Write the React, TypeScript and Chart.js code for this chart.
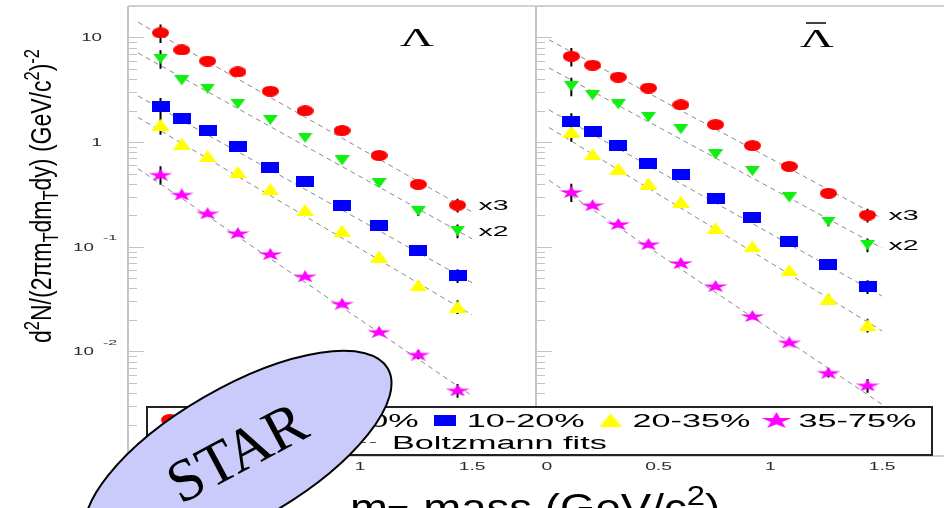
import { useEffect, useRef } from 'react';
import { Chart, registerables } from 'chart.js';

Chart.register(...registerables);

// ---------------- data ----------------
// m_T - mass bin centres (GeV/c^2), shared by both panels
const mtBins = [0.11, 0.205, 0.32, 0.455, 0.6, 0.755, 0.92, 1.085, 1.26, 1.435];
// relative uncertainty drawn as vertical error bars (0 = hidden under the marker)
const binRelErr = [0.2, 0, 0, 0, 0, 0, 0, 0, 0.1, 0.15];

const centralityLabels = ['0-5%', '5-10%', '10-20%', '20-35%', '35-75%'];
const scaleFactorLabels = ['x3', 'x2', '', '', ''];
const fitLegendLabel = 'Boltzmann fits';

// Lambda spectra
const lambda_0_5 = [11.1, 7.6, 5.96, 4.69, 3.07, 1.99, 1.29, 0.745, 0.395, 0.25];
const lambda_5_10 = [6.28, 3.89, 3.24, 2.32, 1.63, 1.1, 0.668, 0.404, 0.219, 0.142];
const lambda_10_20 = [2.2, 1.68, 1.29, 0.912, 0.577, 0.416, 0.246, 0.158, 0.0922, 0.0531];
const lambda_20_35 = [1.47, 0.962, 0.733, 0.517, 0.355, 0.224, 0.142, 0.0803, 0.0427, 0.0268];
const lambda_35_75 = [0.489, 0.316, 0.209, 0.135, 0.0853, 0.0523, 0.0286, 0.0154, 0.00933, 0.00425];

// anti-Lambda spectra
const antiLambda_0_5 = [6.61, 5.43, 4.18, 3.29, 2.27, 1.47, 0.927, 0.586, 0.325, 0.201];
const antiLambda_5_10 = [3.43, 2.8, 2.3, 1.74, 1.33, 0.762, 0.529, 0.296, 0.174, 0.104];
const antiLambda_10_20 = [1.57, 1.26, 0.927, 0.63, 0.489, 0.29, 0.191, 0.113, 0.068, 0.0415];
const antiLambda_20_35 = [1.26, 0.762, 0.557, 0.402, 0.269, 0.15, 0.1007, 0.0596, 0.0319, 0.0178];
const antiLambda_35_75 = [0.334, 0.25, 0.165, 0.106, 0.07, 0.0421, 0.0218, 0.0122, 0.00625, 0.00474];

// Boltzmann fit curves (end points)
const fitMtRange = [0.01, 1.5];
const lambdaFitStart = [13.97, 7.1, 2.76, 1.72, 0.557];
const lambdaFitEnd = [0.215, 0.119, 0.0453, 0.0223, 0.00376];
const antiLambdaFitStart = [9.5, 5.12, 2.03, 1.38, 0.431];
const antiLambdaFitEnd = [0.187, 0.097, 0.0338, 0.0157, 0.00311];

// axes
const xTickValues = [0, 0.5, 1, 1.5];
const yTickLabels = [
  { value: 10, base: '10', exp: '' },
  { value: 1, base: '1', exp: '' },
  { value: 0.1, base: '10', exp: '-1' },
  { value: 0.01, base: '10', exp: '-2' },
];

// ---------------- styling ----------------
const SANS = '"Liberation Sans", Arial, Helvetica, sans-serif';
const SERIF = '"Liberation Serif", "Times New Roman", serif';
const seriesColors = ['#ff0000', '#11ee11', '#0000ff', '#ffff00', '#ff00ff'];
const markerKinds = ['circle', 'triDown', 'square', 'triUp', 'star'];
const markerSizes = [
  [17, 11],
  [15, 10],
  [18, 11],
  [18, 12],
  [24, 12],
];
const legendMarkerSizes = [
  [18, 12],
  [18, 12],
  [22, 11],
  [22, 13],
  [30, 16],
];
const FRAME = '#c4c4c4';
const FIT_COLOR = '#8a8a8a';

type Seg = { t: string; k?: 'sub' | 'sup' };

function makeMarker(kind: string, color: string, w: number, h: number) {
  const c = document.createElement('canvas');
  c.width = w;
  c.height = h;
  const g = c.getContext('2d')!;
  g.fillStyle = color;
  g.beginPath();
  if (kind === 'circle') {
    g.ellipse(w / 2, h / 2, w / 2, h / 2, 0, 0, Math.PI * 2);
  } else if (kind === 'square') {
    g.rect(0, 0, w, h);
  } else if (kind === 'triUp') {
    g.moveTo(0, h);
    g.lineTo(w / 2, 0);
    g.lineTo(w, h);
    g.closePath();
  } else if (kind === 'triDown') {
    g.moveTo(0, 0);
    g.lineTo(w, 0);
    g.lineTo(w / 2, h);
    g.closePath();
  } else {
    for (let k = 0; k < 10; k++) {
      const r = k % 2 ? 0.382 : 1;
      const a = -Math.PI / 2 + (k * Math.PI) / 5;
      const px = ((r * Math.cos(a) + 0.951) / 1.902) * w;
      const py = ((r * Math.sin(a) + 1) / 1.809) * h;
      if (k === 0) g.moveTo(px, py);
      else g.lineTo(px, py);
    }
    g.closePath();
  }
  g.fill();
  return c;
}

function drawRich(
  ctx: CanvasRenderingContext2D,
  segs: Seg[],
  o: {
    x: number;
    y: number;
    size: number;
    family?: string;
    color?: string;
    align?: 'left' | 'center' | 'right';
    sx?: number;
    rot?: number;
    width?: number;
    subDy?: number;
  }
) {
  const fam = o.family ?? SANS;
  const fontOf = (s: Seg) => `${s.k ? o.size * 0.72 : o.size}px ${fam}`;
  ctx.save();
  ctx.fillStyle = o.color ?? '#000';
  ctx.textBaseline = 'alphabetic';
  ctx.textAlign = 'left';
  ctx.translate(o.x, o.y);
  if (o.sx) ctx.scale(o.sx, 1);
  if (o.rot) ctx.rotate(o.rot);
  let total = 0;
  const widths = segs.map((s) => {
    ctx.font = fontOf(s);
    const w = ctx.measureText(s.t).width;
    total += w;
    return w;
  });
  if (o.width) ctx.scale(o.width / total, 1);
  let cx = o.align === 'center' ? -total / 2 : o.align === 'right' ? -total : 0;
  segs.forEach((s, i) => {
    ctx.font = fontOf(s);
    const dy = s.k === 'sub' ? o.size * (o.subDy ?? 0.25) : s.k === 'sup' ? -o.size * 0.42 : 0;
    ctx.fillText(s.t, cx, dy);
    cx += widths[i];
  });
  ctx.restore();
  return total;
}

export default function App() {
  const ref = useRef<HTMLCanvasElement | null>(null);

  useEffect(() => {
    const canvas = ref.current;
    if (!canvas) return;

    const markers = markerKinds.map((k, i) =>
      makeMarker(k, seriesColors[i], markerSizes[i][0], markerSizes[i][1])
    );
    const legendMarkers = markerKinds.map((k, i) =>
      makeMarker(k, seriesColors[i], legendMarkerSizes[i][0], legendMarkerSizes[i][1])
    );

    const lambdaSeries = [lambda_0_5, lambda_5_10, lambda_10_20, lambda_20_35, lambda_35_75];
    const antiSeries = [antiLambda_0_5, antiLambda_5_10, antiLambda_10_20, antiLambda_20_35, antiLambda_35_75];

    const pointSets: any[] = [];
    const fitSets: any[] = [];
    const panels = [
      { xAxisID: 'xL', series: lambdaSeries, fs: lambdaFitStart, fe: lambdaFitEnd },
      { xAxisID: 'xR', series: antiSeries, fs: antiLambdaFitStart, fe: antiLambdaFitEnd },
    ];
    panels.forEach((p) => {
      p.series.forEach((vals, i) => {
        pointSets.push({
          label: centralityLabels[i],
          xAxisID: p.xAxisID,
          yAxisID: 'y',
          data: vals.map((v, j) => ({ x: mtBins[j], y: v })),
          pointStyle: markers[i],
          pointRadius: 5,
          pointHoverRadius: 5,
          showLine: false,
          isSpectrum: true,
          scaleLabel: scaleFactorLabels[i],
        });
        fitSets.push({
          label: fitLegendLabel,
          xAxisID: p.xAxisID,
          yAxisID: 'y',
          data: [
            { x: fitMtRange[0], y: p.fs[i] },
            { x: fitMtRange[1], y: p.fe[i] },
          ],
          showLine: true,
          borderColor: FIT_COLOR,
          borderWidth: 1,
          borderDash: [5, 4],
          pointRadius: 0,
          fill: false,
        });
      });
    });

    const deco = {
      id: 'starDeco',
      beforeDraw(chart: any) {
        const c = chart.ctx;
        c.save();
        c.fillStyle = '#fff';
        c.fillRect(0, 0, chart.width, chart.height);
        c.restore();
      },
      beforeDatasetsDraw(chart: any) {
        const c: CanvasRenderingContext2D = chart.ctx;
        const a = chart.chartArea;
        const y = chart.scales.y;
        const xL = chart.scales.xL;
        const xR = chart.scales.xR;
        c.save();
        // frame lines
        c.strokeStyle = FRAME;
        c.lineWidth = 2;
        c.beginPath();
        c.moveTo(xL.left, a.top);
        c.lineTo(xL.left, a.bottom + 1);
        c.moveTo(xR.left, a.top);
        c.lineTo(xR.left, a.bottom + 1);
        c.stroke();
        c.lineWidth = 1.5;
        c.beginPath();
        c.moveTo(xL.left, a.top);
        c.lineTo(a.right, a.top);
        c.moveTo(xL.left, a.bottom);
        c.lineTo(a.right, a.bottom);
        c.stroke();
        // log ticks pointing inwards
        c.lineWidth = 1;
        c.beginPath();
        for (let d = -3; d <= 1; d++) {
          for (let m = 1; m <= 9; m++) {
            const v = m * Math.pow(10, d);
            if (v < y.min || v > y.max) continue;
            const py = Math.round(y.getPixelForValue(v)) + 0.5;
            const len = m === 1 ? 16 : 9;
            for (const sx of [xL.left, xR.left]) {
              c.moveTo(sx, py);
              c.lineTo(sx + len, py);
            }
          }
        }
        c.stroke();
        // error bars
        c.strokeStyle = '#000';
        c.lineWidth = 2;
        c.beginPath();
        chart.data.datasets.forEach((ds: any, di: number) => {
          if (!ds.isSpectrum) return;
          const meta = chart.getDatasetMeta(di);
          ds.data.forEach((pt: any, j: number) => {
            const e = binRelErr[j];
            if (!e) return;
            const px = meta.data[j].x;
            c.moveTo(px, y.getPixelForValue(pt.y * (1 + e)));
            c.lineTo(px, y.getPixelForValue(pt.y * (1 - e)));
          });
        });
        c.stroke();
        c.restore();
      },
      afterDatasetsDraw(chart: any) {
        const c: CanvasRenderingContext2D = chart.ctx;
        const a = chart.chartArea;
        const y = chart.scales.y;
        const xL = chart.scales.xL;
        const xR = chart.scales.xR;
        const TICK_COL = '#2a2a2a';

        // y tick labels
        yTickLabels.forEach((lab) => {
          const py = y.getPixelForValue(lab.value);
          if (lab.exp) {
            drawRich(c, [{ t: lab.base }], { x: a.left - 55, y: py + 4, size: 11, sx: 1.7, color: TICK_COL });
            drawRich(c, [{ t: lab.exp }], { x: a.left - 25, y: py - 6.5, size: 8, sx: 2.0, color: TICK_COL });
          } else {
            drawRich(c, [{ t: lab.base }], {
              x: a.left - 26,
              y: py + 4,
              size: 11,
              sx: 1.7,
              align: 'right',
              color: TICK_COL,
            });
          }
        });

        // x tick labels
        [xL, xR].forEach((sc: any) => {
          xTickValues.forEach((v) => {
            drawRich(c, [{ t: String(v) }], {
              x: sc.getPixelForValue(v),
              y: a.bottom + 14,
              size: 11,
              sx: 1.75,
              align: 'center',
              color: TICK_COL,
            });
          });
        });

        // axis titles
        drawRich(
          c,
          [
            { t: 'd' },
            { t: '2', k: 'sup' },
            { t: 'N/(2πm' },
            { t: 'T', k: 'sub' },
            { t: 'dm' },
            { t: 'T', k: 'sub' },
            { t: 'dy) (GeV/c' },
            { t: '2', k: 'sup' },
            { t: ')' },
            { t: '-2', k: 'sup' },
          ],
          { x: 51, y: 343, size: 22, sx: 1.35, rot: -Math.PI / 2, width: 294 }
        );
        drawRich(
          c,
          [{ t: 'm' }, { t: 'T', k: 'sub' }, { t: '-mass (GeV/c' }, { t: '2', k: 'sup' }, { t: ')' }],
          { x: xL.left + 222, y: 521, size: 38, sx: 1.2, subDy: 0.1 }
        );

        // panel titles
        drawRich(c, [{ t: 'Λ' }], { x: xL.left + 289, y: 45.5, size: 26, family: SERIF, sx: 1.8, align: 'center' });
        drawRich(c, [{ t: 'Λ' }], { x: xR.left + 281, y: 47, size: 26, family: SERIF, sx: 1.8, align: 'center' });
        c.save();
        c.strokeStyle = '#000';
        c.lineWidth = 1.5;
        c.beginPath();
        c.moveTo(xR.left + 270, 23);
        c.lineTo(xR.left + 290, 23);
        c.stroke();
        c.restore();

        // scale factor labels next to the last point of the scaled spectra
        chart.data.datasets.forEach((ds: any, di: number) => {
          if (!ds.isSpectrum || !ds.scaleLabel) return;
          const meta = chart.getDatasetMeta(di);
          const last = meta.data[meta.data.length - 1];
          drawRich(c, [{ t: ds.scaleLabel }], { x: last.x + 21, y: last.y + 5, size: 15, sx: 1.9 });
        });

        // legend
        const lx0 = 147;
        const ly0 = 407;
        const lx1 = 932;
        const ly1 = 455;
        c.save();
        c.fillStyle = '#fff';
        c.fillRect(lx0, ly0, lx1 - lx0, ly1 - ly0);
        c.strokeStyle = '#222';
        c.lineWidth = 2;
        c.strokeRect(lx0, ly0, lx1 - lx0, ly1 - ly0);
        c.restore();
        let cx = 170;
        centralityLabels.forEach((lab, i) => {
          const m = legendMarkers[i];
          c.drawImage(m, cx - m.width / 2, 420 - m.height / 2);
          const tx = cx + 22;
          const w = drawRich(c, [{ t: lab }], { x: tx, y: 426.5, size: 18, sx: 1.9 });
          cx = tx + w * 1.9 + 26;
        });
        c.save();
        c.strokeStyle = '#555';
        c.lineWidth = 1;
        c.setLineDash([6, 4]);
        c.beginPath();
        c.moveTo(170, 442.5);
        c.lineTo(376, 442.5);
        c.stroke();
        c.restore();
        drawRich(c, [{ t: fitLegendLabel }], { x: 392, y: 449, size: 18, sx: 1.9 });

        // STAR logo
        c.save();
        c.beginPath();
        c.ellipse(238, 455, 173, 67, (-30 * Math.PI) / 180, 0, Math.PI * 2);
        c.fillStyle = '#cbcbfb';
        c.fill();
        c.strokeStyle = '#000';
        c.lineWidth = 2;
        c.stroke();
        c.restore();
        drawRich(c, [{ t: 'STAR' }], {
          x: 246,
          y: 470,
          size: 60,
          family: SERIF,
          rot: (-28 * Math.PI) / 180,
          align: 'center',
        });
      },
    };

    const axisCommon = {
      display: true,
      ticks: { display: false },
      grid: { display: false },
      border: { display: false },
    };

    const chart = new Chart(canvas, {
      type: 'scatter',
      data: { datasets: [...pointSets, ...fitSets] },
      options: {
        animation: false,
        responsive: false,
        maintainAspectRatio: false,
        events: [],
        layout: { padding: { left: 0, right: 0, top: 5, bottom: 0 } },
        plugins: { legend: { display: false }, tooltip: { enabled: false } },
        scales: {
          xL: {
            ...axisCommon,
            type: 'linear',
            position: 'bottom',
            stack: 'panels',
            stackWeight: 1,
            min: -0.035,
            max: 1.785,
            afterFit: (s: any) => {
              s.height = 52;
            },
          },
          xR: {
            ...axisCommon,
            type: 'linear',
            position: 'bottom',
            stack: 'panels',
            stackWeight: 1,
            min: -0.048,
            max: 1.777,
            afterFit: (s: any) => {
              s.height = 52;
            },
          },
          y: {
            ...axisCommon,
            type: 'logarithmic',
            position: 'left',
            min: 0.001,
            max: 20,
            afterFit: (s: any) => {
              s.width = 128;
            },
          },
        } as any,
      },
      plugins: [deco],
    });

    return () => chart.destroy();
  }, []);

  return (
    <div
      style={{
        position: 'fixed',
        left: 0,
        top: 0,
        width: 948,
        height: 508,
        overflow: 'hidden',
        background: '#fff',
      }}
    >
      <canvas ref={ref} width={950} height={508} style={{ display: 'block', width: 950, height: 508 }} />
    </div>
  );
}
